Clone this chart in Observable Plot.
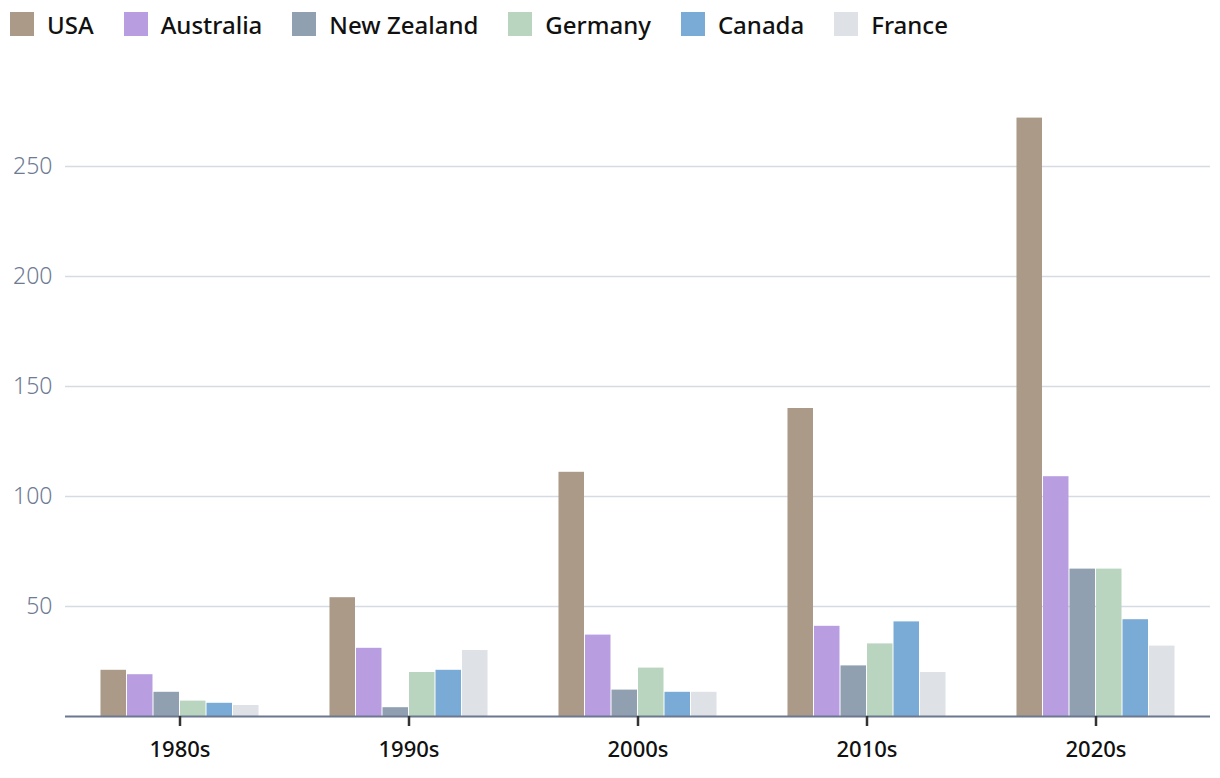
<!DOCTYPE html>
<html>
<head>
<meta charset="utf-8">
<script src="https://cdn.jsdelivr.net/npm/d3@7"></script>
<script src="https://cdn.jsdelivr.net/npm/@observablehq/plot@0.6"></script>
<style>
  body { margin: 0; background: #fff; font-family: "Noto Sans", sans-serif; }
  #legend { display: flex; align-items: center; height: 48px; padding-left: 10px; box-sizing: border-box; }
  .item { display: flex; align-items: center; margin-right: 30px; font-size: 24px; font-weight: 500; color: #111; }
  .sw { width: 24px; height: 24px; margin-right: 13px; }
</style>
</head>
<body>
<div id="legend"></div>
<div id="chart"></div>
<script>
const decades = ["1980s", "1990s", "2000s", "2010s", "2020s"];
const countries = ["USA", "Australia", "New Zealand", "Germany", "Canada", "France"];
const colors = ["#ab9a88", "#b89ee0", "#90a0b0", "#bad5bf", "#7aabd6", "#dee1e6"];
const usa = [21, 54, 111, 140, 272];
const australia = [19, 31, 37, 41, 109];
const newZealand = [11, 4, 12, 23, 67];
const germany = [7, 20, 22, 33, 67];
const canada = [6, 21, 11, 43, 44];
const france = [5, 30, 11, 20, 32];
const yTicks = [50, 100, 150, 200, 250];

const series = [usa, australia, newZealand, germany, canada, france];
const data = [];
decades.forEach((d, i) => countries.forEach((c, j) => data.push({decade: d, country: c, value: series[j][i]})));

const legend = document.getElementById("legend");
countries.forEach((c, j) => {
  const it = document.createElement("div");
  it.className = "item";
  it.innerHTML = `<span class="sw" style="background:${colors[j]}"></span><span>${c}</span>`;
  legend.appendChild(it);
});

const chart = Plot.plot({
  width: 1220,
  height: 730,
  marginLeft: 64,
  marginRight: 10,
  marginTop: 52,
  marginBottom: 62,
  style: {fontFamily: "Noto Sans, sans-serif", background: "#fff"},
  fx: {domain: decades, paddingInner: 0, paddingOuter: 0, label: null, axis: null},
  x: {domain: countries, paddingInner: 0, paddingOuter: 1.32, round: false, axis: null},
  y: {domain: [0, 280], axis: null},
  color: {domain: countries, range: colors},
  marks: [
    Plot.gridY(yTicks, {stroke: "#d5dae3", strokeOpacity: 1, strokeWidth: 1.5}),
    Plot.barY(data, {fx: "decade", x: "country", y: "value", fill: "country", insetLeft: 0.5, insetRight: 0.5}),
    Plot.ruleY([0], {stroke: "#6b7890", strokeWidth: 2}),
    Plot.axisY(yTicks, {tickSize: 0, tickPadding: 13, fontSize: 23, fontWeight: 300, fill: "#6e7b93", label: null}),
    Plot.axisFx({anchor: "bottom", tickSize: 10, tickPadding: 15, fontSize: 22, fontWeight: 500, fill: "#111", stroke: "#333", strokeWidth: 2.5, label: null})
  ]
});
document.getElementById("chart").appendChild(chart);
</script>
</body>
</html>
